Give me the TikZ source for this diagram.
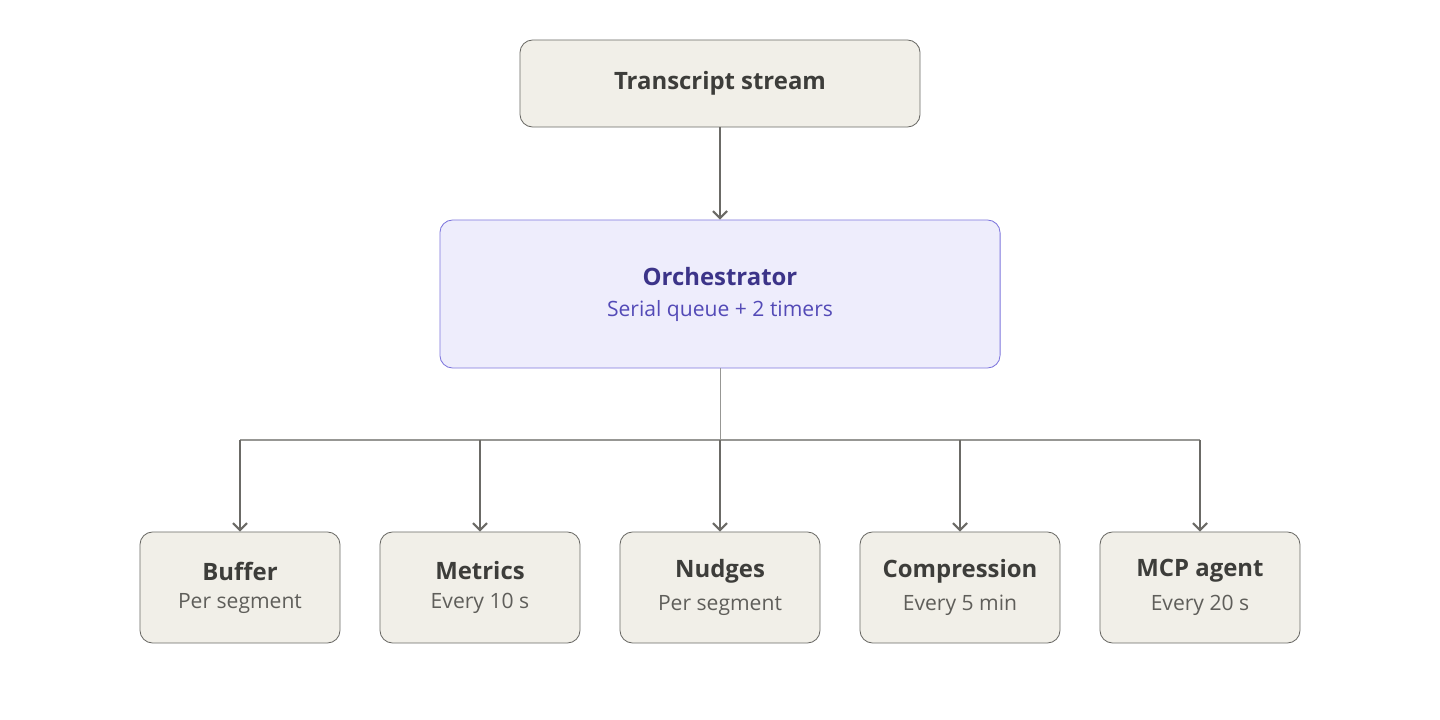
\documentclass[tikz,border=0pt]{standalone}
\usepackage{fontspec}
\setmainfont{Open Sans}
\usetikzlibrary{positioning,arrows.meta}
\definecolor{boxfill}{HTML}{F1EFE8}
\definecolor{boxdraw}{HTML}{6B6A66}
\definecolor{orchfill}{HTML}{EEEDFC}
\definecolor{orchdraw}{HTML}{7F77DD}
\definecolor{orchtitle}{HTML}{3C3489}
\definecolor{orchsub}{HTML}{534AB7}
\definecolor{darktext}{HTML}{3D3D3A}
\definecolor{subtext}{HTML}{5F5E5A}
\begin{document}
\begin{tikzpicture}[x=0.025cm, y=-0.025cm,
    plainbox/.style={rectangle, rounded corners=9pt, draw=boxdraw, fill=boxfill, line width=0.6pt},
    stagebox/.style={plainbox, minimum width=5cm, minimum height=2.775cm, align=center, text=darktext},
    sub/.style={text=subtext, font=\fontsize{15}{18}\selectfont},
    flow/.style={draw=boxdraw, line width=1.5pt, -{Straight Barb[length=5pt, width=10pt]}}]
    \useasboundingbox (0,0) rectangle (1440,720);
    \node[plainbox, minimum width=10cm, minimum height=2.175cm, text=darktext,
          font=\fontsize{17}{20}\selectfont\bfseries] (trans) at (720,83.5) {Transcript stream};
    \node[rectangle, rounded corners=9pt, draw=orchdraw, fill=orchfill, line width=0.6pt,
          minimum width=14cm, minimum height=3.7cm, align=center] (orch) at (720,294)
          {\textcolor{orchtitle}{\fontsize{17}{20}\selectfont\bfseries Orchestrator}\\[10pt]
           \textcolor{orchsub}{\fontsize{15}{18}\selectfont Serial queue + 2 timers}};
    \foreach \name/\x/\title/\note in {buffer/240/Buffer/Per segment, metrics/480/Metrics/Every 10 s,
        nudges/720/Nudges/Per segment, compression/960/Compression/Every 5 min, mcp/1200/MCP agent/Every 20 s}
        \node[stagebox] (\name) at (\x,587.5)
            {{\fontsize{17}{20}\selectfont\bfseries \title}\\[8pt]{\color{subtext}\fontsize{15}{18}\selectfont \note}};
    \coordinate (bus) at (720,440);
    \draw[flow] (trans) -- (orch);
    \draw[boxdraw!70, line width=0.6pt] (orch) -- (bus);
    \draw[boxdraw!70, line width=0.8pt] (bus -| buffer) -- (bus -| mcp);
    \foreach \name in {buffer, metrics, nudges, compression, mcp}
        \draw[flow] (bus -| \name) -- (\name);
\end{tikzpicture}
\end{document}
